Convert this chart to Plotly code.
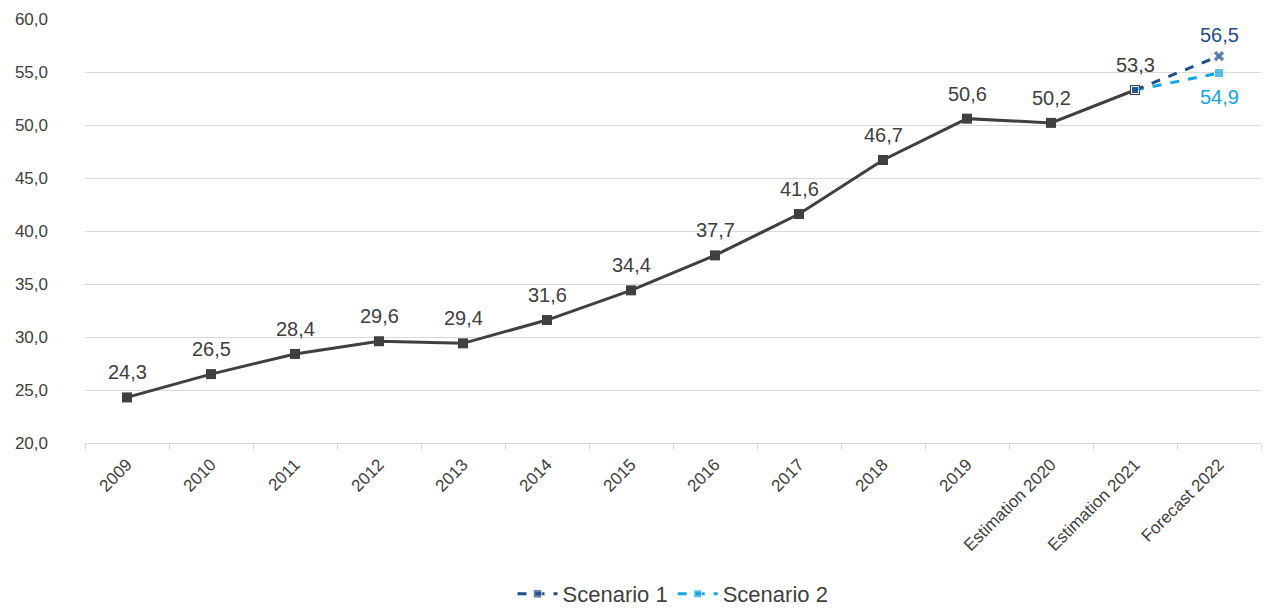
import plotly.graph_objects as go

categories = ["2009", "2010", "2011", "2012", "2013", "2014", "2015", "2016",
              "2017", "2018", "2019", "Estimation 2020", "Estimation 2021",
              "Forecast 2022"]
actual_values = [24.3, 26.5, 28.4, 29.6, 29.4, 31.6, 34.4, 37.7, 41.6, 46.7,
                 50.6, 50.2, 53.3]
scenario1_values = [53.3, 56.5]
scenario2_values = [53.3, 54.9]

DARK = "#404040"
BLUE1 = "#1F4E8C"
BLUE2 = "#12A4E3"
FONT = "Liberation Sans"


def fmt(v):
    return f"{v:.1f}".replace(".", ",")


fig = go.Figure()

fig.add_trace(go.Scatter(
    x=categories[:13], y=actual_values, mode="lines+markers",
    line=dict(color=DARK, width=3),
    marker=dict(symbol="square", size=10, color=DARK),
    showlegend=False,
))

fig.add_trace(go.Scatter(
    x=categories[12:], y=scenario2_values, mode="lines+markers",
    name="Scenario 2", legendrank=2,
    line=dict(color=BLUE2, width=3, dash="dash"),
    marker=dict(symbol="square", size=[7, 9], color=BLUE2),
))

fig.add_trace(go.Scatter(
    x=categories[12:], y=scenario1_values, mode="lines+markers",
    name="Scenario 1", legendrank=1,
    line=dict(color=BLUE1, width=3, dash="dash"),
    marker=dict(symbol=["square", "x"], size=[7, 10], color=BLUE1),
))

# value labels (x given as category index)
annotations = []
for i, v in enumerate(actual_values):
    annotations.append(dict(x=i, y=v, text=fmt(v), showarrow=False,
                            yshift=25, font=dict(size=20, color=DARK, family=FONT)))
last = len(categories) - 1
annotations.append(dict(x=last, y=scenario1_values[1],
                        text=fmt(scenario1_values[1]), showarrow=False,
                        yshift=21, font=dict(size=20, color=BLUE1, family=FONT)))
annotations.append(dict(x=last, y=scenario2_values[1],
                        text=fmt(scenario2_values[1]), showarrow=False,
                        yshift=-24, font=dict(size=20, color=BLUE2, family=FONT)))

fig.update_layout(
    width=1264, height=616,
    margin=dict(l=85, r=3, t=19, b=172),
    paper_bgcolor="white", plot_bgcolor="white",
    separators=",.",
    font=dict(family=FONT, color=DARK),
    annotations=annotations,
    legend=dict(orientation="h", x=0.5, xanchor="center", y=-171 / 425,
                yanchor="bottom", traceorder="normal", itemwidth=40,
                font=dict(size=22, color=DARK, family=FONT)),
    xaxis=dict(
        type="category", categoryorder="array", categoryarray=categories,
        range=[-0.5, 13.5], tickangle=-45, tickson="boundaries",
        ticks="outside", ticklen=6, tickcolor="#d9d9d9",
        showline=True, linecolor="#d9d9d9", linewidth=1, showgrid=False,
        automargin=False, ticklabelstandoff=4,
        tickfont=dict(size=17, color=DARK, family=FONT),
    ),
    yaxis=dict(
        range=[20, 60], dtick=5, tickformat=".1f",
        showgrid=True, gridcolor="#d9d9d9", gridwidth=1,
        zeroline=False, showline=False, ticklabelstandoff=36,
        automargin=False,
        tickfont=dict(size=17, color=DARK, family=FONT),
    ),
)

fig.write_html("out.html")
